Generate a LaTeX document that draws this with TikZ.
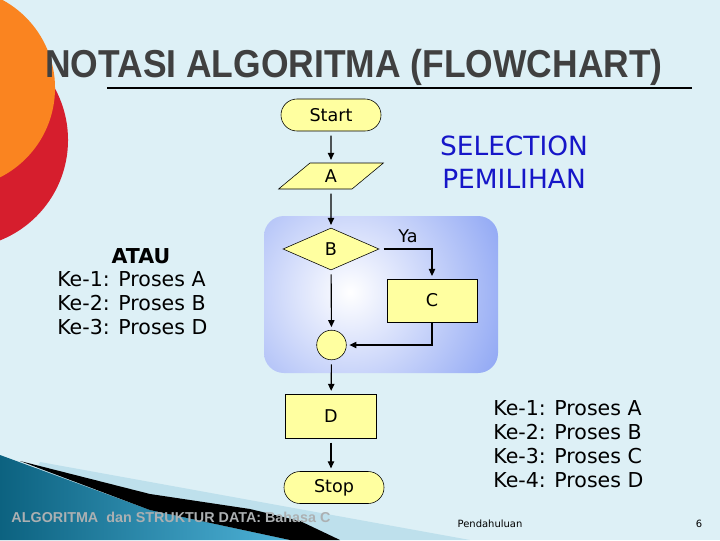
\documentclass[tikz,border=0pt]{standalone}
\usepackage{fontspec}
\setmainfont{DejaVu Sans}
\newfontfamily\headfont{Liberation Sans}
\usepackage{graphicx}
\usetikzlibrary{arrows.meta,positioning,shapes.geometric,shapes.misc,calc}
\definecolor{PageCyan}{RGB}{221,240,246}
\definecolor{FlowYellow}{RGB}{255,255,160}
\definecolor{BoxBlue}{RGB}{122,150,242}
\definecolor{TitleGray}{RGB}{64,64,64}
\definecolor{SelectBlue}{RGB}{22,22,200}
\definecolor{BlobOrange}{RGB}{250,132,32}
\definecolor{BlobRed}{RGB}{214,30,45}
\definecolor{DeepTeal}{RGB}{12,98,128}
\definecolor{LightTeal}{RGB}{78,178,216}
\definecolor{PaleBlue}{RGB}{190,224,236}
\definecolor{FootGray}{RGB}{172,176,178}
\tikzset{
  terminal/.style={rounded rectangle,draw=black,fill=FlowYellow,thin,
    minimum width=2.5cm,minimum height=0.8cm,inner sep=0pt,
    font=\fontsize{12.5}{14}\selectfont},
  io/.style={trapezium,trapezium left angle=55,trapezium right angle=125,
    draw=black,fill=FlowYellow,thin,minimum width=2.62cm,minimum height=0.65cm,
    inner sep=0pt,trapezium stretches=true,font=\fontsize{12.5}{14}\selectfont},
  decision/.style={diamond,draw=black,fill=FlowYellow,thin,minimum width=2.4cm,
    minimum height=1.05cm,inner sep=0pt,font=\fontsize{12.5}{14}\selectfont},
  process/.style={rectangle,draw=black,fill=FlowYellow,thin,minimum width=2.27cm,
    minimum height=1.1cm,font=\fontsize{12.5}{14}\selectfont},
  connector/.style={circle,draw=black,fill=FlowYellow,thin,minimum size=0.74cm,
    inner sep=0pt},
  arrow/.style={-{Triangle[length=5pt,width=4.5pt]},line width=0.8pt,black,
    shorten <=3pt,shorten >=2pt},
  listtext/.style={align=left,font=\fontsize{14.6}{17.1}\selectfont}
}

\begin{document}
\begin{tikzpicture}[x=0.025cm,y=-0.025cm]

\useasboundingbox (0,0) rectangle (720,540);
\clip (0,0) rectangle (720,540);
\fill[PageCyan] (0,0) rectangle (720,540);

% blobs on the left
\fill[BlobRed] (-40,140) circle (2.7cm);
\fill[BlobOrange] (-45,88) circle (2.5cm);

% swoosh at the bottom
\fill[PaleBlue] (40,462) -- (470,540) -- (0,540) -- cycle;
\shade[left color=DeepTeal,right color=LightTeal]
  (0,455) -- (150,510) -- (290,540) -- (0,540) -- cycle;
\fill[black] (20,461) -- (150,494) -- (250,509) -- (300,521) -- (340,540)
  -- (290,540) -- (150,510) -- cycle;

% title
\node[anchor=base,text=TitleGray,font=\headfont\bfseries\fontsize{27.7}{30}\selectfont]
  (title) at (354,77) {\scalebox{0.91}[1]{NOTASI ALGORITMA (FLOWCHART)}};
\draw[line width=1.4pt] (107,88) -- (692,88);

% selection area
\begin{scope}
  \clip[rounded corners=0.5cm] (264,216) rectangle (498,373);
  \shade[inner color=white,outer color=BoxBlue] (350,292) circle (5cm);
\end{scope}

\node[terminal] (start) at (331,115) {Start};
\node[io] (a) at (331,176) {A};
\node[decision] (b) at (331,249) {B};
\node[process,minimum width=2.25cm,minimum height=1.07cm] (c) at (432,300.5) {C};
\node[connector] (join) at (331.5,345) {};
\node[process] (d) at (331,416) {D};
\node[terminal] (stop) at (334,487.5) {Stop};

\node[font=\fontsize{12.5}{14}\selectfont] (ya) at (408,236) {Ya};

\draw[arrow] (start) -- (a);
\draw[arrow] (a) -- (b);
\draw[arrow] (b.east) -| (c.north);
\draw[arrow] (b) -- (join);
\draw[arrow,shorten <=0pt] (c.south) |- (join.east);
\draw[arrow] (join) -- (d);
\draw[arrow] (d.south) -- (d.south |- stop.north);

% texts
\node[align=center,text=SelectBlue,font=\fontsize{18.8}{23.5}\selectfont]
  (selection) at (514,162) {SELECTION\\PEMILIHAN};
\node[font=\bfseries\fontsize{14.6}{17.1}\selectfont] (atau) at (141,256) {ATAU};
\node[listtext,anchor=west,inner sep=0pt] (leftlist) at (57,303)
  {Ke-1: Proses A\\Ke-2: Proses B\\Ke-3: Proses D};
\node[listtext,anchor=west,inner sep=0pt] (rightlist) at (493,444)
  {Ke-1: Proses A\\Ke-2: Proses B\\Ke-3: Proses C\\Ke-4: Proses D};

\node[text=FootGray,font=\headfont\bfseries\fontsize{10.2}{12}\selectfont]
  (footer) at (171,517) {ALGORITMA \ dan STRUKTUR DATA: Bahasa C};
\node[font=\fontsize{7.1}{8}\selectfont] (chapter) at (490,524) {Pendahuluan};
\node[font=\fontsize{7.1}{8}\selectfont] (page) at (699,524) {6};

\end{tikzpicture}
\end{document}
